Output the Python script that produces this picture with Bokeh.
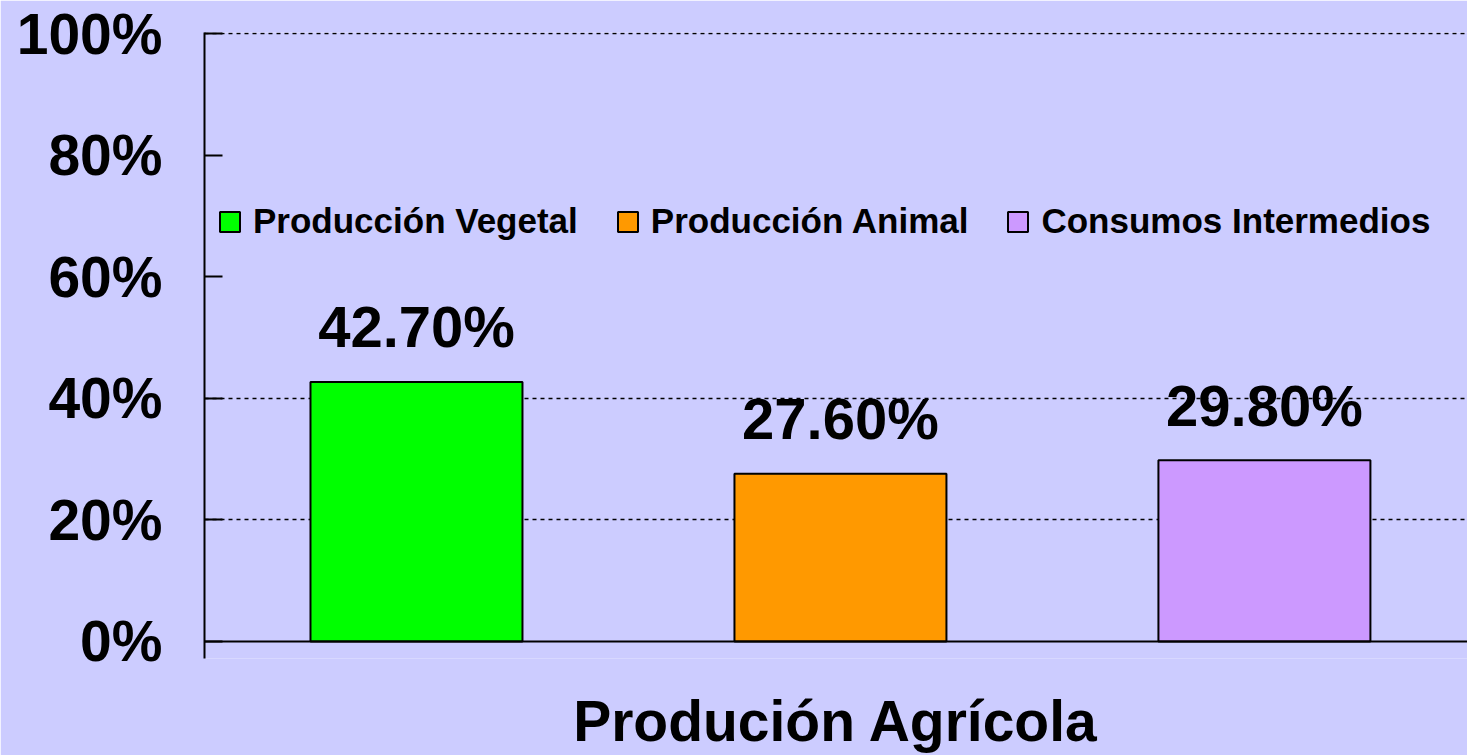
from bokeh.plotting import figure
from bokeh.models import Range1d, FixedTicker, PrintfTickFormatter, Span, Legend, LegendItem, ColumnDataSource
from bokeh.embed import file_html
from bokeh.resources import INLINE
from bokeh.core.properties import value

categories = ["Producción Vegetal", "Producción Animal", "Consumos Intermedios"]
shares = [42.70, 27.60, 29.80]
labels = ["42.70%", "27.60%", "29.80%"]
colors = ["#00FF00", "#FF9900", "#CC99FF"]
y_ticks = [0, 20, 40, 60, 80, 100]
grid_ticks = [20, 40, 100]
x_title = "Produción Agrícola"

BG = "#CCCCFF"
FONT = "Liberation Sans"

xs = [i + 1 for i in range(len(categories))]
src = ColumnDataSource(dict(x=xs, top=shares, color=colors, label=labels, cat=categories))

p = figure(width=1467, height=755, output_backend="svg", toolbar_location=None,
           x_range=Range1d(0.5, 3.479), y_range=Range1d(-2.8, 100.2),
           background_fill_color=BG, border_fill_color=BG,
           min_border_left=204, min_border_top=32, min_border_right=0, min_border_bottom=97)
p.outline_line_color = None

r = p.vbar(x="x", top="top", width=0.5, bottom=0, source=src, fill_color="color",
           line_color="black", line_width=2)

# x axis line at 0
p.add_layout(Span(location=0, dimension="width", line_color="black", line_width=2))

p.xgrid.visible = False
p.ygrid.ticker = FixedTicker(ticks=grid_ticks)
p.ygrid.grid_line_color = "black"
p.ygrid.grid_line_dash = "4 4"
p.ygrid.grid_line_width = 1.5

ya = p.yaxis[0]
ya.ticker = FixedTicker(ticks=y_ticks)
ya.formatter = PrintfTickFormatter(format="%d%%")
ya.axis_line_color = "black"
ya.axis_line_width = 2
ya.major_tick_in = 18
ya.major_tick_out = 0
ya.major_tick_line_width = 2
ya.minor_tick_line_color = None
ya.major_label_text_font = FONT
ya.major_label_text_font_style = "bold"
ya.major_label_text_font_size = "57px"
ya.major_label_text_color = "black"
ya.major_label_standoff = 42

xa = p.xaxis[0]
xa.axis_line_color = None
xa.major_tick_line_color = None
xa.minor_tick_line_color = None
xa.major_label_text_font_size = "0px"
xa.axis_label = x_title
xa.axis_label_text_font = FONT
xa.axis_label_text_font_style = "bold"
xa.axis_label_text_font_size = "57px"
xa.axis_label_text_color = "black"
xa.axis_label_standoff = 24

p.text(x="x", y="top", text="label", source=src, text_align="center",
       text_baseline="alphabetic", y_offset=-55, text_font=value(FONT),
       text_font_style="bold", text_font_size="58px", text_color="black")

items = []
for i, c in enumerate(categories):
    items.append(LegendItem(label=c, renderers=[r], index=i))
legend = Legend(items=items, orientation="horizontal", location=(13, 417),
                label_text_font=FONT, label_text_font_style="bold",
                label_text_font_size="35px", label_text_color="black",
                glyph_width=25, glyph_height=25, label_standoff=11, spacing=37,
                padding=0, margin=0, background_fill_alpha=0, border_line_color=None,
                label_height=40)
p.add_layout(legend)

open("out.html", "w").write(file_html(p, INLINE))
